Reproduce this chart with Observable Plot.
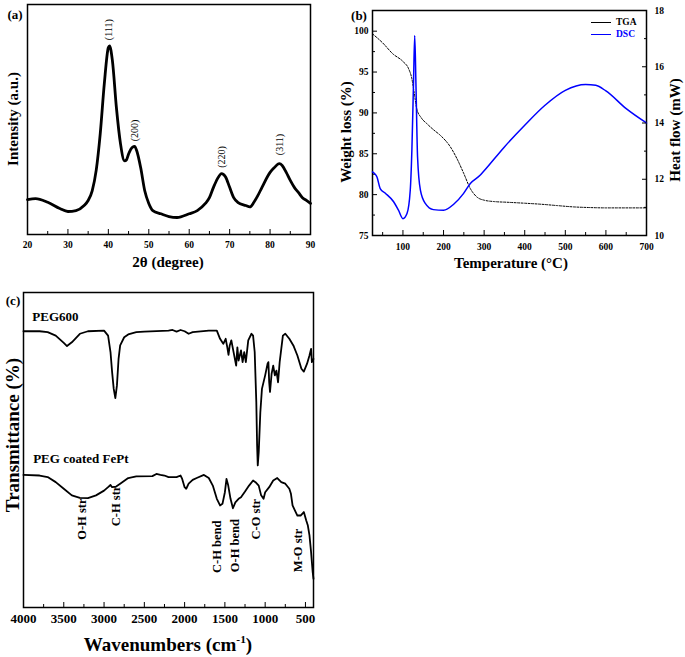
<!DOCTYPE html>
<html><head><meta charset="utf-8">
<script src="https://cdn.jsdelivr.net/npm/d3@7"></script>
<script src="https://cdn.jsdelivr.net/npm/@observablehq/plot@0.6"></script>
<style>
body{margin:0;background:#fff;}
#wrap{position:relative;width:685px;height:657px;overflow:hidden;background:#fff;font-family:"Liberation Serif","Times New Roman",serif;color:#000;}
.lbl{position:absolute;white-space:nowrap;line-height:1;}
</style></head><body><div id="wrap"></div>
<script>
const FONT = '"Liberation Serif", "Times New Roman", serif';

// ---------- Panel (a): XRD ----------
const xrdTheta = [20,22,25,28,30,32,34,35,36,37,38,39,40,40.3,41,42,43,44,44.5,45,46,46.5,47,48,49,50,51,53,55,57,60,62,64,65,66,67,68,69,70,71,72,74,75,76,77,78,80,81,82.3,83,84,85,86,87,88,89,90];
const xrdIntensity = [15.2,15.6,14,11.3,10,10.4,12.6,14.8,19,28,44,65.6,81.3,82,75.6,55,39.5,32,32.5,35,38,38.3,36.5,29,19,13.5,10.4,9,7.8,7.4,9,10.4,13.5,16,20.5,24.3,26.5,25,20.5,16,14,12.6,12,14,17,20.5,27,29,30.8,30,27,23.5,20.5,18.3,16,14.8,13.5];
const peakLabels = ["(111)","(200)","(220)","(311)"];
const peakTheta = [40.2, 46.5, 68.1, 82.5];
const peakLabelBase = [84.5, 40.5, 29, 34.5];
const xrdTicks = [20,30,40,50,60,70,80,90];
const xrdMinorTicks = [25,35,45,55,65,75,85];

// ---------- Panel (b): TGA / DSC ----------
const tgaTemp = [25,50,75,100,114,122,128,134,145,159,175,192,217,233,250,266,282,300,325,356,400,439,480,520,560,600,700];
const tgaWeight = [99.67,98.57,97.23,96.29,95.4,94.18,92.35,90.51,89.41,88.68,87.95,87.26,85.83,84.41,82.57,80.74,79.72,79.32,79.15,79.07,78.95,78.83,78.66,78.5,78.42,78.38,78.38];
const dscTemp = [25,30,36,44,56,77,89,100,110,118,122,126,129,132,136,143,155,175,200,225,249,266,290,300,350,400,450,500,550,575,600,650,700];
const dscHeat = [12.26,12.2,12.08,11.67,11.51,11.2,10.9,10.6,10.78,11.61,13.03,15.4,17.11,15.4,12.79,11.61,11.14,10.92,10.9,11.11,11.49,11.85,12.14,12.3,13.15,13.92,14.63,15.16,15.37,15.34,15.14,14.51,14.0];
const tempTicks = [100,200,300,400,500,600,700];
const tempMinor = [50,150,250,350,450,550,650];
const weightTicks = [75,80,85,90,95,100];
const weightMinor = [77.5,82.5,87.5,92.5,97.5];
const heatTicks = [10,12,14,16,18];
const heatMinor = [11,13,15,17];

// ---------- Panel (c): FTIR ----------
const pegWave = [4000,3800,3700,3600,3500,3460,3400,3300,3200,3000,2950,2920,2900,2880,2860,2840,2820,2800,2750,2700,2600,2500,2200,2150,2100,2050,2000,1950,1900,1700,1600,1560,1520,1490,1470,1455,1440,1420,1400,1360,1345,1330,1300,1280,1260,1240,1210,1170,1150,1130,1110,1100,1092,1080,1060,1040,1000,970,960,950,940,920,900,880,860,840,820,780,750,700,650,600,550,520,480,450,430,420,400];
const pegT = [87.7,87.7,87.4,86.3,84.0,83.0,84.2,86.9,87.7,87.9,86.3,81.1,74.7,69.4,66.5,70.5,78.9,83.2,85.8,86.7,87.4,87.6,87.9,88.1,87.6,88.1,87.7,86.9,87.4,87.9,87.9,85.3,83.7,85.3,82.6,80.2,83.2,84.8,82.1,76.8,82.6,78.4,81.6,77.9,81.1,77.9,84.8,86.9,86.3,81.1,65.2,51.4,45.1,49.3,62.0,69.4,73.7,77.4,77.9,71.5,68.4,74.2,76.8,73.7,75.2,71.5,77.9,86.3,86.9,85.3,83.2,80.0,75.8,74.9,77.4,80.0,82.1,77.9,78.9];
const fePtWave = [4000,3800,3700,3600,3500,3400,3300,3200,3100,3000,2950,2920,2900,2850,2800,2700,2600,2400,2350,2300,2250,2200,2100,2050,2030,2000,1980,1950,1900,1850,1760,1700,1650,1600,1560,1530,1500,1480,1460,1430,1400,1370,1330,1300,1250,1200,1150,1120,1080,1050,1020,1000,950,900,850,800,750,700,680,660,640,600,560,520,490,470,450,430,420,410,400];
const fePtT = [42.1,41.9,41.4,39.8,37.7,35.6,34.8,34.7,35.6,37.1,38.2,38.9,38.2,38.4,39.3,41.1,41.6,41.7,42.4,42.1,41.9,41.4,41.4,41.9,40.8,38.2,37.7,39.3,40.5,41.1,42.1,41.1,38.7,34.5,32.4,32.9,36.6,40.8,38.9,34.5,31.5,33.4,34.5,35.0,36.8,38.7,40.3,39.8,38.7,35.6,34.5,36.6,38.2,40.3,41.1,39.8,39.3,37.7,36.1,32.4,31.3,29.2,29.2,30.3,27.6,26.0,22.9,17.6,14.4,11.2,9.1];
const sampleNames = ["PEG600","PEG coated FePt"];
const sampleWave = [3890, 3880];
const sampleY = [92.2, 47.3];
const bandLabels = ["O-H str","C-H str","C-H bend","O-H bend","C-O str","M-O str"];
const bandWave = [3276, 2850, 1592, 1372, 1112, 594];
const bandTop = [34.6, 38.7, 27.6, 28.1, 34.5, 25.0];
const waveTicks = [4000,3500,3000,2500,2000,1500,1000,500];
const waveMinor = [3750,3250,2750,2250,1750,1250,750];

const wrap = document.getElementById("wrap");
function put(svg, left, top) {
  svg.style.position = "absolute";
  svg.style.left = left + "px";
  svg.style.top = top + "px";
  wrap.appendChild(svg);
}
function label(text, x, y, size, opt = {}) {
  const d = document.createElement("div");
  d.className = "lbl";
  if (opt.html) d.innerHTML = text; else d.textContent = text;
  d.style.left = x + "px";
  d.style.top = y + "px";
  d.style.fontSize = size + "px";
  d.style.fontWeight = opt.weight || "bold";
  d.style.color = opt.color || "#000";
  const tx = opt.anchor === "start" ? "0" : "-50%";
  d.style.transform = opt.rotate ? "translate(-50%,-50%) rotate(-90deg)" : `translate(${tx},-50%)`;
  wrap.appendChild(d);
}
const baseStyle = (fs) => ({fontFamily: FONT, fontWeight: "bold", fontSize: fs, background: "transparent", color: "#000", overflow: "visible"});
const plain = d => String(d);
const blank = () => "";

// Panel (a)
const xrd = xrdTheta.map((t, i) => ({theta: t, intensity: xrdIntensity[i]}));
const plotA = Plot.plot({
  width: 340, height: 275,
  marginLeft: 27, marginRight: 30, marginTop: 4, marginBottom: 41,
  style: baseStyle("9.5px"),
  x: {domain: [20, 90]},
  y: {domain: [0, 100], axis: null},
  marks: [
    Plot.line(xrd, {x: "theta", y: "intensity", stroke: "#000", strokeWidth: 2.8, strokeLinejoin: "round", curve: "monotone-x"}),
    Plot.text(peakLabels, {x: (d, i) => peakTheta[i], y: (d, i) => peakLabelBase[i], text: d => d, rotate: -90, textAnchor: "start", fontSize: 10, fontWeight: "normal"}),
    Plot.axisX({ticks: xrdTicks, tickSize: -5, tickPadding: 12, tickFormat: plain, label: null}),
    Plot.axisX({ticks: xrdMinorTicks, tickSize: -3, tickFormat: blank, label: null}),
    Plot.frame({stroke: "#000", strokeWidth: 1.5})
  ]
});
put(plotA, 0, 0);

// Panel (b) — weight loss layer
const tga = tgaTemp.map((t, i) => ({temp: t, weight: tgaWeight[i]}));
const dsc = dscTemp.map((t, i) => ({temp: t, heat: dscHeat[i]}));
const plotB1 = Plot.plot({
  width: 345, height: 275,
  marginLeft: 32, marginRight: 39, marginTop: 10, marginBottom: 40,
  style: baseStyle("9.5px"),
  x: {domain: [25, 700]},
  y: {domain: [75, 102.53]},
  marks: [
    Plot.line(tga, {x: "temp", y: "weight", stroke: "#000", strokeWidth: 1, strokeDasharray: "2,1.5", curve: "monotone-x"}),
    Plot.axisX({ticks: tempTicks, tickSize: -5, tickPadding: 13, tickFormat: plain, label: null}),
    Plot.axisX({ticks: tempMinor, tickSize: -3, tickFormat: blank, label: null}),
    Plot.axisY({ticks: weightTicks, tickSize: -5, tickPadding: 9, tickFormat: plain, label: null}),
    Plot.axisY({ticks: weightMinor, tickSize: -3, tickFormat: blank, label: null}),
    Plot.frame({stroke: "#000", strokeWidth: 1.5})
  ]
});
put(plotB1, 340, 0);

// Panel (b) — heat flow layer
const plotB2 = Plot.plot({
  width: 345, height: 275,
  marginLeft: 32, marginRight: 39, marginTop: 10, marginBottom: 40,
  style: baseStyle("9.5px"),
  x: {domain: [25, 700], axis: null},
  y: {domain: [10, 18]},
  marks: [
    Plot.line(dsc, {x: "temp", y: "heat", stroke: "#0000ff", strokeWidth: 1.5, curve: "monotone-x"}),
    Plot.axisY({anchor: "right", ticks: heatTicks, tickSize: -5, tickPadding: 13, tickFormat: plain, label: null}),
    Plot.axisY({anchor: "right", ticks: heatMinor, tickSize: -3, tickFormat: blank, label: null})
  ]
});
put(plotB2, 340, 0);

// Panel (c)
const peg = pegWave.map((w, i) => ({wave: w, t: pegT[i]}));
const fept = fePtWave.map((w, i) => ({wave: w, t: fePtT[i]}));
const plotC = Plot.plot({
  width: 330, height: 374,
  marginLeft: 23, marginRight: 17, marginTop: 9, marginBottom: 50,
  style: baseStyle("13px"),
  x: {domain: [4000, 400]},
  y: {domain: [0, 100], axis: null},
  marks: [
    Plot.line(peg, {x: "wave", y: "t", stroke: "#000", strokeWidth: 1.8, strokeLinejoin: "round"}),
    Plot.line(fept, {x: "wave", y: "t", stroke: "#000", strokeWidth: 1.8, strokeLinejoin: "round"}),
    Plot.text(sampleNames, {x: (d, i) => sampleWave[i], y: (d, i) => sampleY[i], text: d => d, textAnchor: "start", fontSize: 13, fontWeight: "bold"}),
    Plot.text(bandLabels, {x: (d, i) => bandWave[i], y: (d, i) => bandTop[i], text: d => d, rotate: -90, textAnchor: "end", fontSize: 12.5, fontWeight: "bold"}),
    Plot.axisX({ticks: waveTicks, tickSize: -5, tickPadding: 11, tickFormat: plain, label: null}),
    Plot.axisX({ticks: waveMinor, tickSize: -3, tickFormat: blank, label: null}),
    Plot.frame({stroke: "#000", strokeWidth: 1.5})
  ]
});
put(plotC, 0, 283);

// Titles and panel letters
label("(a)", 15, 14, 13);
label("Intensity (a.u.)", 13, 119, 15, {rotate: true});
label("2θ (degree)", 168, 262, 15);
label("(b)", 359, 15, 13);
label("Weight loss (%)", 346, 132, 15, {rotate: true});
label("Heat flow (mW)", 675, 130, 15, {rotate: true});
label("Temperature (°C)", 511, 263, 15);
label("(c)", 13, 300, 13);
label("Transmittance (%)", 12, 435, 19, {rotate: true});
label("Wavenumbers (cm<sup style=\"font-size:0.6em;vertical-align:0.7em;line-height:0\">-1</sup>)", 168, 644, 19, {html: true});

// Legend for panel (b)
const legendNames = ["TGA", "DSC"];
const legendColors = ["#000", "#0000ff"];
legendNames.forEach((name, i) => {
  const y = 23 + i * 12;
  const ln = document.createElement("div");
  ln.style.cssText = `position:absolute;left:591px;top:${y - 0.75}px;width:20px;height:0;border-top:1.5px solid ${legendColors[i]};`;
  wrap.appendChild(ln);
  label(name, 616, y, 9.5, {anchor: "start", color: legendColors[i]});
});
</script></body></html>
